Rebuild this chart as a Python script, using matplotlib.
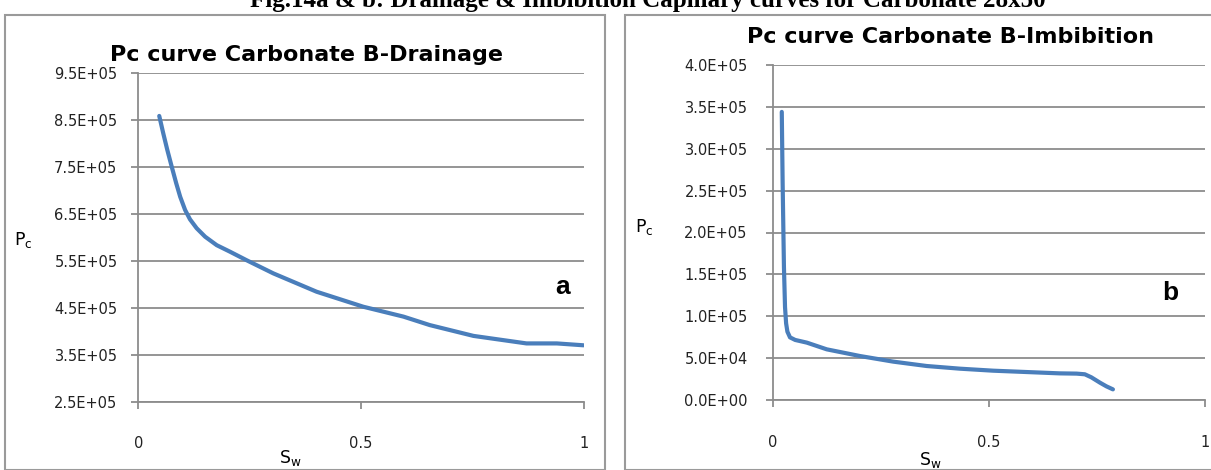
import matplotlib
matplotlib.use("Agg")
import matplotlib.pyplot as plt
from matplotlib.patches import Rectangle

# ---- data ----
sw_drain = [0.047, 0.056, 0.065, 0.075, 0.085, 0.094, 0.105, 0.116, 0.131, 0.150,
            0.176, 0.206, 0.243, 0.303, 0.40, 0.505, 0.595, 0.654, 0.752, 0.804,
            0.871, 0.939, 0.999]
pc_drain = [8.58e5, 8.21e5, 7.86e5, 7.50e5, 7.15e5, 6.86e5, 6.58e5, 6.38e5, 6.19e5, 6.01e5,
            5.83e5, 5.69e5, 5.51e5, 5.23e5, 4.84e5, 4.52e5, 4.31e5, 4.13e5, 3.90e5, 3.83e5,
            3.74e5, 3.74e5, 3.70e5]

sw_imb = [0.021, 0.023, 0.026, 0.0285, 0.031, 0.034, 0.040, 0.052, 0.079, 0.125,
          0.202, 0.279, 0.356, 0.433, 0.510, 0.587, 0.664, 0.703, 0.722, 0.737,
          0.757, 0.772, 0.787]
pc_imb = [3.44e5, 2.59e5, 1.59e5, 1.11e5, 9.16e4, 8.16e4, 7.48e4, 7.17e4, 6.85e4, 6.05e4,
          5.25e4, 4.58e4, 4.06e4, 3.74e4, 3.50e4, 3.34e4, 3.18e4, 3.15e4, 3.07e4, 2.71e4,
          2.07e4, 1.63e4, 1.27e4]

drain_yticks = [2.5e5, 3.5e5, 4.5e5, 5.5e5, 6.5e5, 7.5e5, 8.5e5, 9.5e5]
drain_ylabels = ["2.5E+05", "3.5E+05", "4.5E+05", "5.5E+05", "6.5E+05", "7.5E+05", "8.5E+05", "9.5E+05"]
imb_yticks = [0, 5e4, 1e5, 1.5e5, 2e5, 2.5e5, 3e5, 3.5e5, 4e5]
imb_ylabels = ["0.0E+00", "5.0E+04", "1.0E+05", "1.5E+05", "2.0E+05", "2.5E+05", "3.0E+05", "3.5E+05", "4.0E+05"]
xticks = [0, 0.5, 1]
xlabels = ["0", "0.5", "1"]

W, H = 1211, 470
fig = plt.figure(figsize=(W / 100, H / 100), dpi=100)

LINE = "#4a7ebb"
GRID = "#8c8c8c"
FONT = "DejaVu Sans"


def px(x0, y0, x1, y1):
    return [x0 / W, 1 - y1 / H, (x1 - x0) / W, (y1 - y0) / H]


# panel frames
fig.patches.append(Rectangle((5 / W, 0), 600 / W, 1 - 15 / H, transform=fig.transFigure,
                             fill=False, edgecolor="#9a9a9a", lw=1.5))
fig.patches.append(Rectangle((625 / W, 0), 700 / W, 1 - 15 / H, transform=fig.transFigure,
                             fill=False, edgecolor="#9a9a9a", lw=1.5))

fig.text(648 / W, 1 - 7 / H, "Fig.14a & b: Drainage & Imbibition Capillary curves for Carbonate 28x50",
         ha="center", va="baseline", fontsize=18, fontweight="bold", family="Liberation Serif")


def style(ax, yticks, ylabels, ylim, ypad):
    ax.set_xlim(0, 1)
    ax.set_ylim(*ylim)
    ax.set_xticks(xticks)
    ax.set_xticklabels(xlabels)
    ax.set_yticks(yticks)
    ax.set_yticklabels(ylabels)
    for s in ["top", "right"]:
        ax.spines[s].set_visible(False)
    for s in ["left", "bottom"]:
        ax.spines[s].set_color(GRID)
        ax.spines[s].set_linewidth(1.3)
    ax.yaxis.grid(True, color=GRID, lw=1.3)
    ax.set_axisbelow(True)
    ax.tick_params(axis="both", direction="out", length=5, width=1.3, color=GRID,
                   labelsize=10.5, labelcolor="#222222")
    ax.tick_params(axis="x", pad=20)
    ax.tick_params(axis="y", pad=ypad)
    for lab in ax.get_xticklabels() + ax.get_yticklabels():
        lab.set_family(FONT)


ax1 = fig.add_axes(px(138.3, 72.7, 584, 401.7))
ax1.plot(sw_drain, pc_drain, color=LINE, lw=3, solid_capstyle="round", solid_joinstyle="round")
style(ax1, drain_yticks, drain_ylabels, (2.5e5, 9.5e5), 10)
ax1.text(0.953, 0.349, "a", transform=ax1.transAxes, fontsize=19, fontweight="bold",
         family="Liberation Sans", ha="center", va="center")

ax2 = fig.add_axes(px(772.7, 65, 1205, 400))
ax2.plot(sw_imb, pc_imb, color=LINE, lw=3, solid_capstyle="round", solid_joinstyle="round")
style(ax2, imb_yticks, imb_ylabels, (0, 4e5), 13)
ax2.text(0.92, 0.32, "b", transform=ax2.transAxes, fontsize=19, fontweight="bold",
         family="Liberation Sans", ha="center", va="center")

fig.text(306 / W, 1 - 61 / H, "Pc curve Carbonate B-Drainage", fontsize=16,
         fontweight="bold", family=FONT, ha="center", va="baseline")
fig.text(747 / W, 1 - 43 / H, "Pc curve Carbonate B-Imbibition", fontsize=16,
         fontweight="bold", family=FONT, ha="left", va="baseline")

fig.text(23 / W, 1 - 240 / H, r"P$_\mathregular{c}$", fontsize=12.5, family=FONT,
         ha="center", va="center")
fig.text(644 / W, 1 - 227 / H, r"P$_\mathregular{c}$", fontsize=12.5, family=FONT,
         ha="center", va="center")
fig.text(290 / W, 1 - 458 / H, r"S$_\mathregular{w}$", fontsize=12.5, family=FONT,
         ha="center", va="center")
fig.text(930 / W, 1 - 460 / H, r"S$_\mathregular{w}$", fontsize=12.5, family=FONT,
         ha="center", va="center")

fig.savefig("out.png", dpi=100)
